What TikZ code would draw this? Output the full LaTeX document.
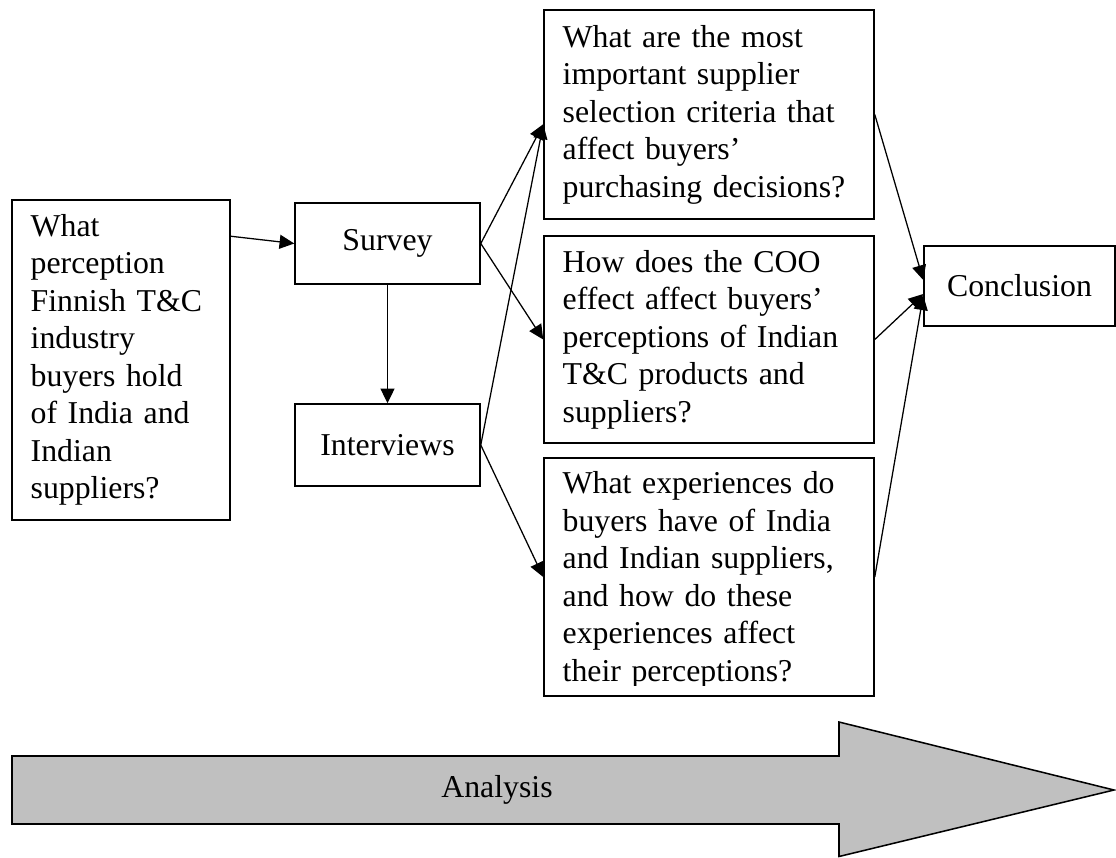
\documentclass[tikz,border=0pt]{standalone}
\usepackage{fontspec}
\setmainfont{Liberation Serif}
\usetikzlibrary{arrows.meta}
\definecolor{arrowgray}{HTML}{C0C0C0}
\tikzset{
  boxtext/.style={draw, line width=1.15pt, inner ysep=0pt, inner xsep=14pt, align=left,
    font=\fontsize{23.85pt}{28.1pt}\selectfont},
  plaintext/.style={inner ysep=0pt, inner xsep=14pt, align=left,
    font=\fontsize{23.85pt}{28.1pt}\selectfont},
  centrebox/.style={draw, line width=1.15pt, inner sep=0pt, align=center,
    font=\fontsize{23.85pt}{28.1pt}\selectfont},
  conn/.style={line width=0.95pt, -{Triangle[length=11pt,width=10.5pt]}},
  bigarrow/.style={draw, line width=1.15pt, fill=arrowgray}
}
\begin{document}
\begin{tikzpicture}[x=0.75pt,y=-0.75pt]
\useasboundingbox (0,0) rectangle (1116,857);

\node[boxtext, text width=135.5pt, minimum height=240pt] (left) at (121,360)
  {What\\perception\\Finnish T\&C\\industry\\buyers hold\\of India and\\Indian\\suppliers?};

\node[centrebox, minimum width=138.75pt, minimum height=60.75pt] (survey) at (387.5,243.5) {Survey};
\node[centrebox, minimum width=138.75pt, minimum height=61.5pt] (interviews) at (387.5,445) {Interviews};

\node[boxtext, text width=219.5pt, minimum height=156.75pt] (q1) at (709,114.5)
  {What are the most\\important supplier\\selection criteria that\\affect buyers’\\purchasing decisions?};
\node[boxtext, text width=219.5pt, minimum height=155.25pt] (q2) at (709,339.5)
  {How does the COO\\effect affect buyers’\\perceptions of Indian\\T\&C products and\\suppliers?};
\node[draw, line width=1.15pt, inner sep=0pt, minimum width=247.5pt, minimum height=178.5pt] (q3) at (709,577) {};
\begin{scope}
  \clip (q3.north west) rectangle ([yshift=8.5pt]q3.south east);
  \node[plaintext, text width=219.5pt, minimum height=178.5pt] (q3text) at (709,580)
    {What experiences do\\buyers have of India\\and Indian suppliers,\\and how do these\\experiences affect\\their perceptions?};
\end{scope}

\node[centrebox, minimum width=143.25pt, minimum height=60pt] (conc) at (1019.5,286) {Conclusion};

\draw[conn] ([yshift=-27.75pt]left.north east) -- (survey.west);
\draw[conn] (survey.south) -- (interviews.north);
\draw[conn] (survey.east) -- ([yshift=-86.25pt]q1.north west);
\draw[conn] (survey.east) -- (q2.west);
\draw[conn] (interviews.east) -- ([yshift=-86.25pt]q1.north west);
\draw[conn] (interviews.east) -- (q3.west);
\draw[conn] (q1.east) -- ([yshift=4.5pt]conc.west);
\draw[conn] (q2.east) -- ([yshift=-6pt]conc.west);
\draw[conn] (q3.east) -- ([yshift=-7pt]conc.west);

\draw[bigarrow] (12,756) -- (839,756) -- (839,722) -- (1114,790) -- (839,856.5)
  -- (839,824) -- (12,824) -- cycle;
\node[font=\fontsize{23.85pt}{28.1pt}\selectfont] (analysis) at (497,790) {Analysis};
\end{tikzpicture}
\end{document}
